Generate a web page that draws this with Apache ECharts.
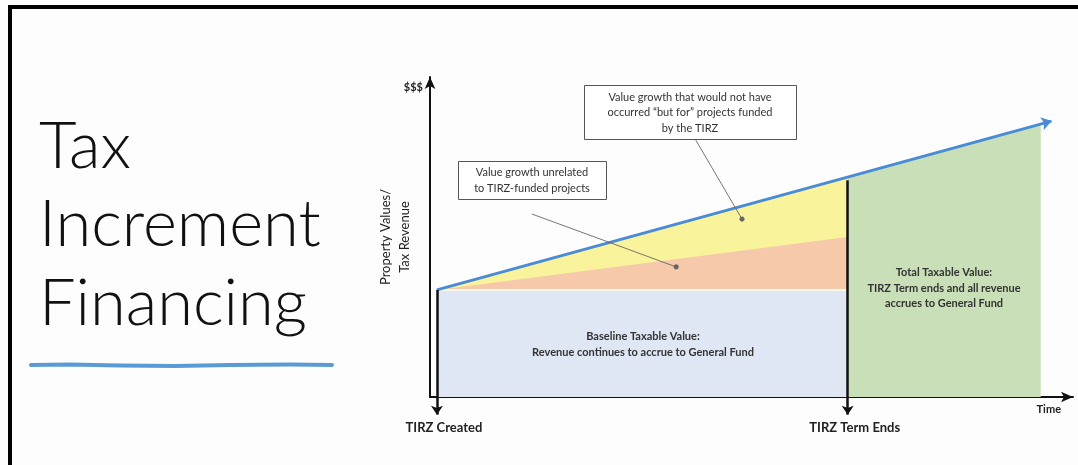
<!DOCTYPE html>
<html>
<head>
<meta charset="utf-8">
<script src="https://cdn.jsdelivr.net/npm/echarts@6/dist/echarts.min.js"></script>
<style>
html,body{margin:0;padding:0;background:#fdfdfd;}
#chart{width:1078px;height:465px;}
</style>
</head>
<body>
<div id="chart"></div>
<script>
// ---- data (time units on x, value units on y) ----
const milestoneLabels = ['TIRZ Created', 'TIRZ Term Ends'];
const milestoneTimes = [1.1, 66];          // TIRZ created, TIRZ term ends
const totalEndTime = 96.5;                 // end of green area
const arrowEndTime = 98.2;                 // tip of total-value trend arrow
const baselineValue = 34;                  // frozen base value
const totalValues = [34, 69.8, 86.7];      // total taxable value at created, term end, green end
const arrowEndValue = 87.6;
const organicValueAtEnd = 50.8;            // value growth unrelated to TIRZ at term end
const axisBottomValue = -5.6;              // where milestone arrows end

// annotation callouts (anchor in data units)
const calloutTIRZ = [[41.9, 81.9], [49.3, 56.5]];
const calloutOrganic = [[16.1, 58.1], [38.9, 41.3]];

const FONT = 'Lato, "Open Sans", sans-serif';
const chart = echarts.init(document.getElementById('chart'), null, {renderer: 'canvas'});

const areaSeries = (name, data, color, lineStyle) => ({
  name, type: 'line', data, symbol: 'none', silent: true,
  lineStyle: lineStyle || {width: 0},
  areaStyle: {color, opacity: 1},
  z: 2
});

const option = {
  animation: false,
  backgroundColor: '#fdfdfd',
  grid: {left: 430, top: 77, right: 5, bottom: 68},
  xAxis: {
    type: 'value', min: 0, max: 101.6,
    axisLine: {show: true, lineStyle: {color: '#111', width: 2}, symbol: ['none', 'arrow'], symbolSize: [8, 12]},
    axisTick: {show: false},
    splitLine: {show: false},
    axisLabel: {
      customValues: milestoneTimes,
      formatter: (v) => milestoneLabels[milestoneTimes.indexOf(v)] || '',
      margin: 24,
      fontFamily: FONT, fontWeight: 'bold', fontSize: 13, color: '#222',
      padding: [0, 0, 0, 14]
    }
  },
  yAxis: {
    type: 'value', min: 0, max: 101.6,
    name: 'Property Values/\nTax Revenue',
    nameLocation: 'middle', nameGap: 16, nameRotate: 90,
    nameTextStyle: {fontFamily: FONT, fontSize: 13, color: '#222', lineHeight: 19},
    axisLine: {show: true, lineStyle: {color: '#111', width: 2}, symbol: ['none', 'arrow'], symbolSize: [8, 12]},
    axisTick: {show: false},
    axisLabel: {show: false},
    splitLine: {show: false}
  },
  series: [
    areaSeries('Total Taxable Value', [[milestoneTimes[1], totalValues[1]], [totalEndTime, totalValues[2]]], '#c8dfb7'),
    areaSeries('TIRZ-funded growth', [[milestoneTimes[0], totalValues[0]], [milestoneTimes[1], totalValues[1]]], '#f9f39c'),
    areaSeries('Unrelated growth', [[milestoneTimes[0], baselineValue], [milestoneTimes[1], organicValueAtEnd]], '#f5c9aa'),
    areaSeries('Baseline Taxable Value', [[milestoneTimes[0], baselineValue], [milestoneTimes[1], baselineValue]], '#dfe6f4', {width: 2, color: '#fbf6ea'}),
    {
      name: 'trend', type: 'lines', coordinateSystem: 'cartesian2d', clip: false, silent: true, z: 5,
      symbol: ['none', 'arrow'], symbolSize: [0, 10],
      lineStyle: {color: '#4a8bd6', width: 3, opacity: 1},
      data: [{coords: [[milestoneTimes[0], totalValues[0]], [arrowEndTime, arrowEndValue]]}]
    },
    {
      name: 'milestones', type: 'lines', coordinateSystem: 'cartesian2d', clip: false, silent: true, z: 6,
      symbol: ['none', 'arrow'], symbolSize: [0, 9],
      lineStyle: {color: '#111', width: 2.5, opacity: 1},
      data: [
        {coords: [[milestoneTimes[0], baselineValue], [milestoneTimes[0], axisBottomValue]]},
        {coords: [[milestoneTimes[1], totalValues[1] - 1], [milestoneTimes[1], axisBottomValue]]}
      ]
    },
    {
      name: 'callouts', type: 'lines', coordinateSystem: 'cartesian2d', clip: false, silent: true, z: 7,
      symbol: ['none', 'circle'], symbolSize: [0, 5],
      lineStyle: {color: '#666', width: 0.9, opacity: 1},
      itemStyle: {color: '#111'},
      data: [{coords: calloutTIRZ}, {coords: calloutOrganic}]
    }
  ],
  graphic: [
    // frame
    {type: 'rect', shape: {x: 8, y: 5, width: 1080, height: 4}, style: {fill: '#000'}},
    {type: 'rect', shape: {x: 8, y: 5, width: 4, height: 470}, style: {fill: '#000'}},
    // title
    {type: 'text', left: 39, top: 115, style: {text: 'Tax', font: '300 65px ' + FONT, fill: '#111'}},
    {type: 'text', left: 39, top: 193, style: {text: 'Increment', font: '300 65px ' + FONT, fill: '#111'}},
    {type: 'text', left: 39, top: 272, style: {text: 'Financing', font: '300 65px ' + FONT, fill: '#111'}},
    {type: 'polyline', shape: {points: [[31, 365], [70, 364.5], [120, 365.5], [175, 366], [230, 365], [290, 364.5], [332, 365]]},
      style: {stroke: '#5b9bd5', lineWidth: 4, lineCap: 'round', fill: null}},
    // axis end labels
    {type: 'text', x: 423, y: 87, style: {text: '$$$', font: 'bold 11px ' + FONT, fill: '#222', align: 'right', verticalAlign: 'middle'}},
    {type: 'text', x: 1061, y: 409, style: {text: 'Time', font: 'bold 11px ' + FONT, fill: '#222', align: 'right', verticalAlign: 'middle'}},
    // callout boxes
    {type: 'rect', shape: {x: 584.5, y: 85.5, width: 212, height: 54}, style: {fill: '#fff', stroke: '#555', lineWidth: 1}, z: 10},
    {type: 'text', x: 690, y: 112.5, z: 11, style: {text: 'Value growth that would not have\noccurred \u201cbut for\u201d projects funded\nby the TIRZ',
      font: '11px ' + FONT, fill: '#333', align: 'center', verticalAlign: 'middle', lineHeight: 15.5}},
    {type: 'rect', shape: {x: 458.5, y: 161.5, width: 148, height: 38}, style: {fill: '#fff', stroke: '#555', lineWidth: 1}, z: 10},
    {type: 'text', x: 532, y: 180, z: 11, style: {text: 'Value growth unrelated\nto TIRZ-funded projects',
      font: '11px ' + FONT, fill: '#333', align: 'center', verticalAlign: 'middle', lineHeight: 16}},
    // area labels
    {type: 'text', x: 643, y: 344.5, z: 11, style: {text: 'Baseline Taxable Value:\nRevenue continues to accrue to General Fund',
      font: 'bold 11px ' + FONT, fill: '#333', align: 'center', verticalAlign: 'middle', lineHeight: 15.5}},
    {type: 'text', x: 944, y: 288, z: 11, style: {text: 'Total Taxable Value:\nTIRZ Term ends and all revenue\naccrues to General Fund',
      font: 'bold 11px ' + FONT, fill: '#333', align: 'center', verticalAlign: 'middle', lineHeight: 15.5}}
  ]
};
chart.setOption(option);
</script>
</body>
</html>
